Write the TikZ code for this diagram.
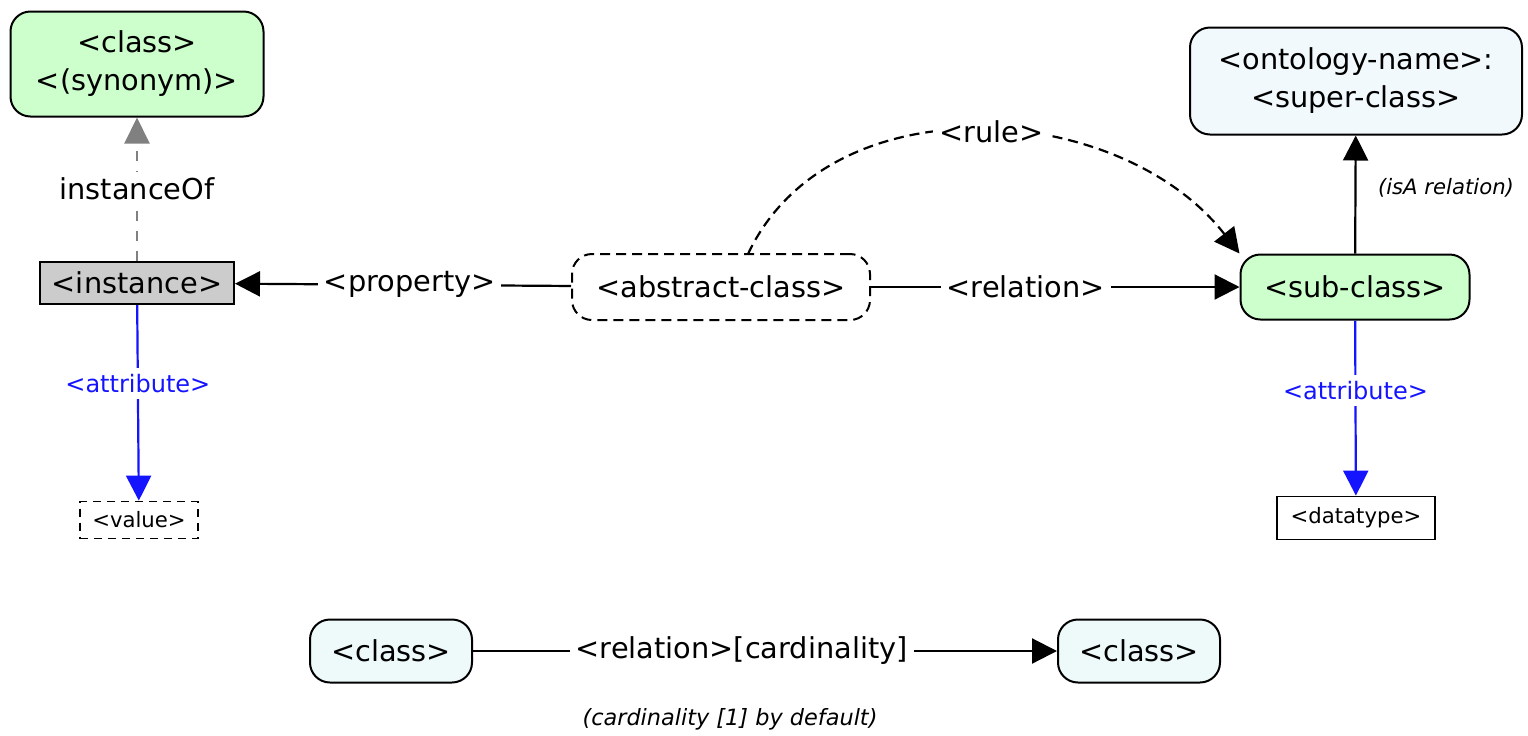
\documentclass[tikz,border=0pt]{standalone}
\usepackage{fontspec}
\setmainfont{DejaVu Sans}
\usetikzlibrary{arrows.meta}
\definecolor{clsgreen}{HTML}{CCFFCC}
\definecolor{supblue}{HTML}{F2F9FC}
\definecolor{relcyan}{HTML}{EEFAFA}
\definecolor{instgray}{HTML}{CCCCCC}
\definecolor{attrblue}{HTML}{1414FF}

\begin{document}
\begin{tikzpicture}[x=0.5pt,y=-0.5pt]
            \tikzset{vertex/.style = {shape=rectangle, draw, line width=1pt, rounded corners=10pt, align=center, inner sep=0pt, font=\fontsize{14.4}{19}\selectfont}}
            \tikzset{small/.style = {shape=rectangle, draw, line width=0.9pt, inner sep=0pt, font=\fontsize{10.6}{13}\selectfont}}
            \tikzset{edge/.style = {draw, line width=1.1pt, -{Triangle[length=12.5pt,width=12.5pt]}}}
            \tikzset{lbl/.style = {fill=white, inner sep=3pt, font=\fontsize{14.4}{18}\selectfont}}
            \tikzset{attr/.style = {fill=white, inner sep=3pt, text=attrblue, font=\fontsize{12}{14}\selectfont}}
            \useasboundingbox (0,0) rectangle (1528,735);
            % vertices
            \node[vertex, fill=clsgreen, minimum width=126.5pt, minimum height=52.5pt] (c) at (137,64) {<class>\\<(synonym)>};
            \node[vertex, fill=instgray, rounded corners=0pt, minimum width=97pt, minimum height=21pt] (i) at (137,283) {<instance>};
            \node[small, dashed, dash pattern=on 4pt off 3pt, minimum width=59pt, minimum height=18.5pt] (v) at (139,520) {<value>};
            \node[vertex, dashed, dash pattern=on 5pt off 3pt, minimum width=149pt, minimum height=33pt] (a) at (721,287) {<abstract-class>};
            \node[vertex, fill=clsgreen, minimum width=114.5pt, minimum height=32.5pt] (s) at (1355,287) {<sub-class>};
            \node[vertex, fill=supblue, minimum width=166pt, minimum height=53.5pt] (o) at (1356,81) {<ontology-name>:\\<super-class>};
            \node[small, minimum width=79pt, minimum height=21.5pt] (d) at (1356,518) {<datatype>};
            \node[vertex, fill=relcyan, minimum width=81pt, minimum height=31.5pt] (l) at (391,651) {<class>};
            \node[vertex, fill=relcyan, minimum width=81pt, minimum height=31.5pt] (r) at (1139,651) {<class>};
            % edges
            \draw[edge, gray, line width=1pt, dashed, dash pattern=on 5pt off 5pt, -{Triangle[length=13pt,width=12.5pt]}] (i) -- node[lbl, text=black] {instanceOf} (c);
            \draw[edge] (a) -- node[lbl, pos=0.48] {<property>} (i);
            \draw[edge] (a) -- node[lbl, pos=0.42] {<relation>} (s);
            \draw[edge, dashed, dash pattern=on 5pt off 3pt] (748,254) .. controls (830,80) and (1120,100) .. node[lbl, pos=0.52] {<rule>} (s.north west);
            \draw[edge] (s) -- (o);
            \node[font=\itshape\fontsize{10.6}{13}\selectfont] (isa) at (1446,188) {(isA relation)};
            \draw[edge, attrblue] (i) -- node[attr, pos=0.4] {<attribute>} (v);
            \draw[edge, attrblue] (s) -- node[attr, pos=0.4] {<attribute>} (d);
            \draw[edge] (l) -- node[lbl, pos=0.46] {<relation>[cardinality]} (r);
            \node[font=\itshape\fontsize{11.2}{13}\selectfont] (dflt) at (730,719) {(cardinality [1] by default)};
        \end{tikzpicture}
\end{document}
